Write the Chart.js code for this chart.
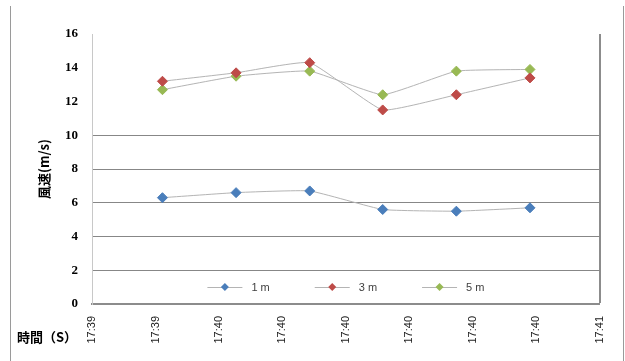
<!DOCTYPE html>
<html>
<head>
<meta charset="utf-8">
<script src="https://cdn.jsdelivr.net/npm/chart.js@4"></script>
<style>
  body { margin: 0; background: #fff; }
</style>
</head>
<body>
<canvas id="windChart" width="625" height="361"></canvas>
<script>
// time position of each measurement, in axis tick units
const times = [1.11, 2.27, 3.43, 4.58, 5.74, 6.90];
const tickLabels = ["17:39", "17:39", "17:40", "17:40", "17:40", "17:40", "17:40", "17:40", "17:41"];

// wind speed (m/s) at each height
const speed1m = [6.3, 6.6, 6.7, 5.6, 5.5, 5.7];
const speed3m = [13.2, 13.7, 14.3, 11.5, 12.4, 13.4];
const speed5m = [12.7, 13.5, 13.8, 12.4, 13.8, 13.9];

const seriesNames = ["1 m", "3 m", "5 m"];
const seriesColors = ["#4a7ebb", "#be4b48", "#98b954"];

function toPoints(values) {
  return times.map((t, i) => ({ x: t, y: values[i] }));
}

function makeSet(name, values, color) {
  return {
    label: name,
    data: toPoints(values),
    borderColor: "#b4b4b4",
    borderWidth: 1,
    tension: 0.12,
    pointStyle: "rectRot",
    pointRadius: 5,
    pointHoverRadius: 5,
    pointBackgroundColor: color,
    pointBorderColor: color,
    pointBorderWidth: 1
  };
}

// outer frame and the x title
const framePlugin = {
  id: "frame",
  beforeDraw(chart) {
    const ctx = chart.ctx;
    ctx.save();
    ctx.fillStyle = "#fff";
    ctx.fillRect(0, 0, chart.width, chart.height);
    ctx.strokeStyle = "#9a9a9a";
    ctx.lineWidth = 1;
    ctx.beginPath();
    ctx.moveTo(10.5, 6);
    ctx.lineTo(10.5, chart.height);
    ctx.moveTo(623.5, 6);
    ctx.lineTo(623.5, chart.height);
    ctx.stroke();
    ctx.restore();
  },
  afterDraw(chart) {
    const ctx = chart.ctx;
    ctx.save();
    ctx.fillStyle = "#000";
    ctx.font = "bold 13px 'Noto Sans CJK JP'";
    ctx.textBaseline = "middle";
    ctx.fillText("時間（S）", 17, 337);
    ctx.restore();
  }
};

// legend drawn inside the plot, near the bottom
const insideLegend = {
  id: "insideLegend",
  afterDatasetsDraw(chart) {
    const ctx = chart.ctx;
    const area = chart.chartArea;
    const y = area.bottom - 17;
    const lineW = 35, gap = 9, spacing = 45;
    ctx.save();
    ctx.font = "11px 'Liberation Sans'";
    const widths = chart.data.datasets.map(d => lineW + gap + ctx.measureText(d.label).width);
    const total = widths.reduce((a, b) => a + b, 0) + spacing * (widths.length - 1);
    let x = (area.left + area.right) / 2 - total / 2;
    chart.data.datasets.forEach((d, i) => {
      ctx.strokeStyle = "#b4b4b4";
      ctx.lineWidth = 1;
      ctx.beginPath();
      ctx.moveTo(x, y + 0.5);
      ctx.lineTo(x + lineW, y + 0.5);
      ctx.stroke();
      const cx = x + lineW / 2, r = 4;
      ctx.fillStyle = d.pointBackgroundColor;
      ctx.beginPath();
      ctx.moveTo(cx - r, y);
      ctx.lineTo(cx, y - r);
      ctx.lineTo(cx + r, y);
      ctx.lineTo(cx, y + r);
      ctx.closePath();
      ctx.fill();
      ctx.fillStyle = "#404040";
      ctx.textBaseline = "middle";
      ctx.fillText(d.label, x + lineW + gap, y + 1);
      x += widths[i] + spacing;
    });
    ctx.restore();
  }
};

const windChart = new Chart(document.getElementById("windChart"), {
  type: "line",
  data: {
    datasets: [
      makeSet(seriesNames[0], speed1m, seriesColors[0]),
      makeSet(seriesNames[1], speed3m, seriesColors[1]),
      makeSet(seriesNames[2], speed5m, seriesColors[2])
    ]
  },
  options: {
    responsive: false,
    animation: false,
    layout: { padding: { left: 30, top: 34, right: 25, bottom: 0 } },
    plugins: {
      legend: { display: false },
      tooltip: { enabled: false }
    },
    scales: {
      x: {
        type: "linear",
        min: 0,
        max: 8,
        afterFit: function (scale) { scale.height = 57; },
        ticks: {
          stepSize: 1,
          autoSkip: false,
          minRotation: 90,
          maxRotation: 90,
          padding: 12,
          color: "#222",
          font: { family: "Liberation Sans", size: 11 },
          callback: function (value, index) { return tickLabels[index]; }
        },
        grid: {
          drawTicks: false,
          color: c => c.tick && c.tick.value === 8 ? "#8c8c8c" : "rgba(0,0,0,0)",
          lineWidth: c => c.tick && c.tick.value === 8 ? 2 : 1
        },
        border: { color: "#8c8c8c", width: 2 }
      },
      y: {
        min: 0,
        max: 16,
        afterFit: function (scale) { scale.width = 62; },
        ticks: {
          stepSize: 2,
          padding: 14,
          color: "#000",
          font: { family: "Liberation Serif", size: 13, weight: "bold" }
        },
        grid: {
          drawTicks: false,
          color: c => c.tick && c.tick.value >= 2 && c.tick.value <= 10 ? "#878787" : "rgba(0,0,0,0)"
        },
        border: { color: "#c8c8c8", width: 1 },
        title: {
          display: true,
          text: "風速(m/s)",
          color: "#000",
          padding: { top: 6, bottom: 0 },
          font: { family: "Noto Sans CJK JP", size: 13, weight: "bold" }
        }
      }
    }
  },
  plugins: [framePlugin, insideLegend]
});
</script>
</body>
</html>
